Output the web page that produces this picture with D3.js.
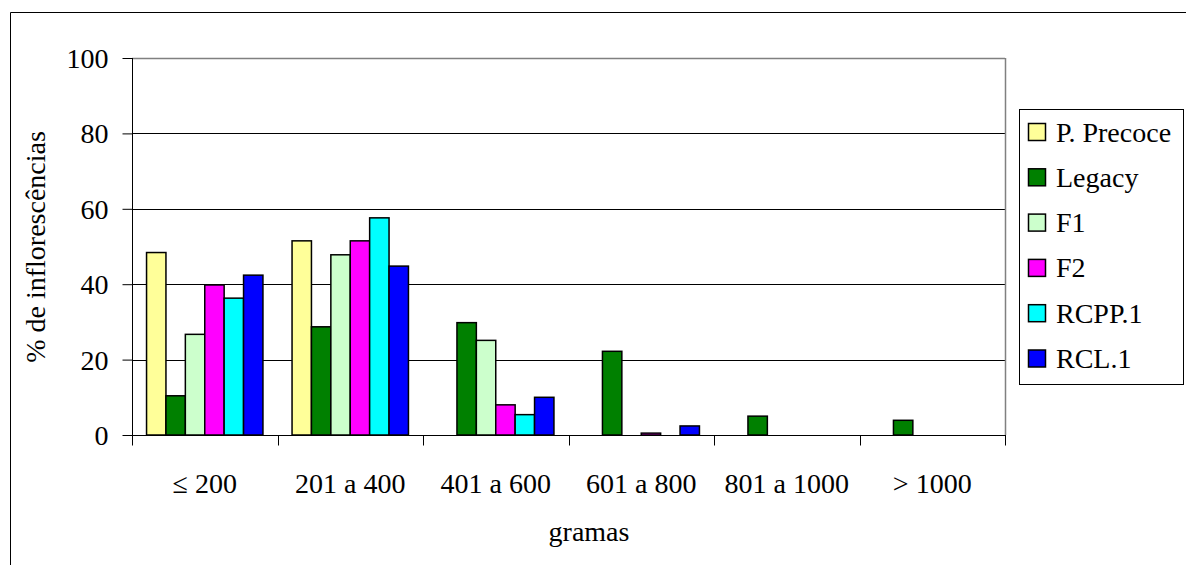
<!DOCTYPE html>
<html>
<head>
<meta charset="utf-8">
<script src="https://cdn.jsdelivr.net/npm/d3@7"></script>
<style>
  html, body { margin: 0; padding: 0; background: #fff; }
  svg { display: block; }
  text { font-family: "Liberation Serif", "Times New Roman", serif; fill: #000; }
</style>
</head>
<body>
<script>
// Weight classes (grams) and share of inflorescences (%) per cultivar
const categories = ["\u2264 200", "201 a 400", "401 a 600", "601 a 800", "801 a 1000", "> 1000"];
const seriesNames = ["P. Precoce", "Legacy", "F1", "F2", "RCPP.1", "RCL.1"];
const seriesColors = ["#FFFF99", "#008000", "#CCFFCC", "#FF00FF", "#00FFFF", "#0000FF"];
const pPrecoce = [48.4, 51.5, 0, 0, 0, 0];
const legacy   = [10.4, 28.7, 29.8, 22.2, 5.0, 3.9];
const f1       = [26.7, 47.8, 25.1, 0, 0, 0];
const f2       = [39.8, 51.5, 8.0, 0.5, 0, 0];
const rcpp1    = [36.3, 57.6, 5.4, 0, 0, 0];
const rcl1     = [42.4, 44.8, 10.0, 2.4, 0, 0];
const yTicks = [0, 20, 40, 60, 80, 100];
const yTitle = "% de inflorescências";
const xTitle = "gramas";

const seriesValues = [pPrecoce, legacy, f1, f2, rcpp1, rcl1];

const W = 1186, H = 565;
const plot = { left: 132, right: 1005, top: 58, bottom: 435 };

const svg = d3.select("body").append("svg").attr("width", W).attr("height", H);

// Outer chart frame (right and bottom edges lie outside the view)
svg.append("path")
  .attr("d", `M10.5,${H + 5} V12.5 H${W + 5}`)
  .attr("fill", "none").attr("stroke", "#000").attr("stroke-width", 1);

const x = d3.scaleBand().domain(categories).range([plot.left, plot.right]).padding(0);
const xs = d3.scaleBand().domain(seriesNames).range([0, x.bandwidth()]).paddingInner(0).paddingOuter(0.75);
const y = d3.scaleLinear().domain([0, 100]).range([plot.bottom, plot.top]);

// Gridlines
svg.append("g").selectAll("line")
  .data(yTicks.filter(t => t > 0))
  .join("line")
  .attr("x1", plot.left).attr("x2", plot.right)
  .attr("y1", d => Math.round(y(d)) + 0.5).attr("y2", d => Math.round(y(d)) + 0.5)
  .attr("stroke", d => d === 100 ? "#808080" : "#000")
  .attr("stroke-width", d => d === 100 ? 1.5 : 1);

// Plot area right edge
svg.append("line")
  .attr("x1", plot.right + 0.5).attr("x2", plot.right + 0.5)
  .attr("y1", plot.top).attr("y2", plot.bottom)
  .attr("stroke", "#808080").attr("stroke-width", 1.5);

// Bars
const barData = [];
seriesNames.forEach((s, si) => {
  seriesValues[si].forEach((v, ci) => {
    if (v > 0) barData.push({ s, si, c: categories[ci], v });
  });
});
svg.append("g").selectAll("rect")
  .data(barData)
  .join("rect")
  .attr("x", d => x(d.c) + xs(d.s))
  .attr("width", xs.bandwidth())
  .attr("y", d => y(d.v))
  .attr("height", d => y(0) - y(d.v))
  .attr("fill", d => seriesColors[d.si])
  .attr("stroke", "#000").attr("stroke-width", 1.5);

// Y axis
const yAxis = svg.append("g").attr("transform", `translate(${plot.left + 0.5},0)`)
  .call(d3.axisLeft(y).tickValues(yTicks).tickSize(10).tickPadding(14).tickFormat(d3.format("d")));
yAxis.select(".domain").attr("d", `M0,${plot.top} V${plot.bottom + 10}`).attr("stroke", "#000");
yAxis.selectAll(".tick line").attr("stroke", "#000");
yAxis.selectAll(".tick text").attr("font-size", 28).attr("font-family", "Liberation Serif, serif").attr("dy", "0.34em");

// X axis
const xAxis = svg.append("g").attr("transform", `translate(0,${plot.bottom + 0.5})`)
  .call(d3.axisBottom(x).tickSize(0).tickPadding(0));
xAxis.select(".domain").attr("d", `M${plot.left},0 H${plot.right + 1}`).attr("stroke", "#000");
xAxis.selectAll(".tick text").attr("font-size", 28).attr("font-family", "Liberation Serif, serif")
  .attr("y", 57).attr("dy", 0);
// Category separators
const bounds = categories.map(c => x(c)).concat([plot.right]);
xAxis.append("g").selectAll("line")
  .data(bounds)
  .join("line")
  .attr("x1", d => Math.round(d) + 0.5).attr("x2", d => Math.round(d) + 0.5)
  .attr("y1", 0).attr("y2", 10)
  .attr("stroke", "#000");

// Axis titles
svg.append("text")
  .attr("transform", "translate(45,247) rotate(-90)")
  .attr("text-anchor", "middle").attr("font-size", 28)
  .text(yTitle);
svg.append("text")
  .attr("x", 589).attr("y", 541)
  .attr("text-anchor", "middle").attr("font-size", 28)
  .text(xTitle);

// Legend
const legend = svg.append("g");
legend.append("rect")
  .attr("x", 1019.5).attr("y", 109.5).attr("width", 164).attr("height", 275)
  .attr("fill", "#fff").attr("stroke", "#000").attr("stroke-width", 1);
const items = legend.selectAll("g.item")
  .data(seriesNames)
  .join("g").attr("class", "item")
  .attr("transform", (d, i) => `translate(1028,${132 + i * 45.3})`);
items.append("rect")
  .attr("x", 0.5).attr("y", -8.5).attr("width", 17).attr("height", 17)
  .attr("fill", (d, i) => seriesColors[i])
  .attr("stroke", "#000").attr("stroke-width", 1.5);
items.append("text")
  .attr("x", 28).attr("y", 9.5)
  .attr("font-size", 28)
  .text(d => d);
</script>
</body>
</html>
